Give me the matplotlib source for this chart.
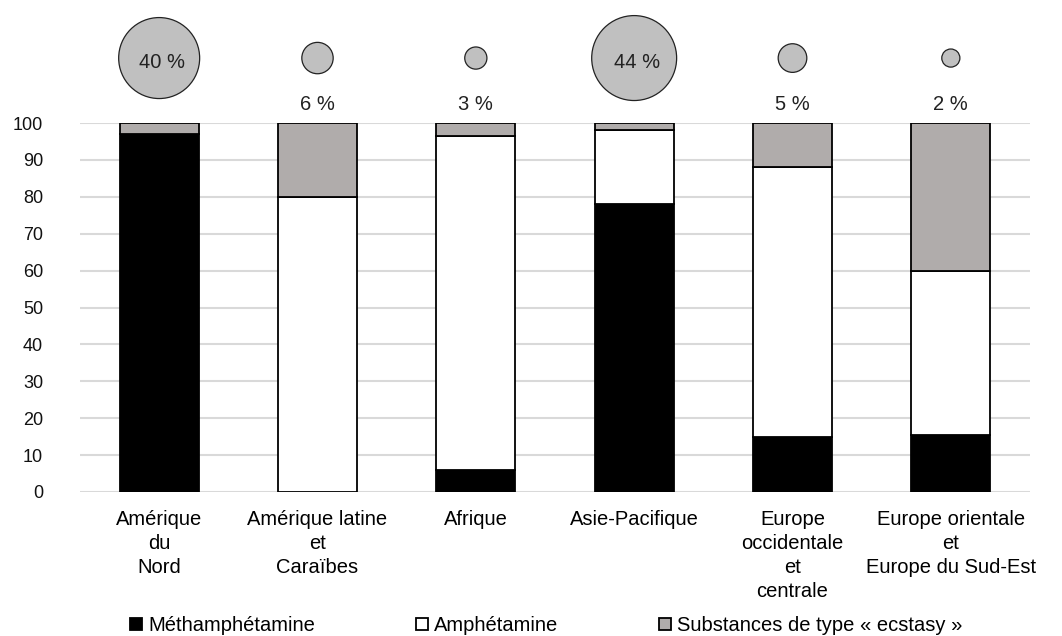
import numpy as np
import matplotlib.pyplot as plt
from matplotlib.patches import Patch

plt.rcParams['font.family'] = ['Liberation Sans', 'DejaVu Sans']

regions = ["Amérique\ndu\nNord", "Amérique latine\net\nCaraïbes", "Afrique",
           "Asie-Pacifique", "Europe\noccidentale\net\ncentrale",
           "Europe orientale\net\nEurope du Sud-Est"]
meth = [97, 0, 6, 78, 15, 15.5]
amph = [0, 80, 90.5, 20, 73, 44.5]
ecstasy = [3, 20, 3.5, 2, 12, 40]
share = [40, 6, 3, 44, 5, 2]  # share of global seizures, shown as bubbles

fig = plt.figure(figsize=(10.62, 6.36), dpi=100)
ax = fig.add_axes([80/1062, 144/636, 950/1062, 369/636])

x = np.arange(len(regions))
w = 0.5
meth = np.array(meth)
amph = np.array(amph)
ecstasy = np.array(ecstasy)
kw = dict(width=w, edgecolor='black', linewidth=1.3, zorder=3)
ax.bar(x, meth, color='black', **kw)
ax.bar(x, amph, bottom=meth, color='white', **kw)
ax.bar(x, ecstasy, bottom=meth + amph, color='#b0acab', **kw)

# bubbles above the bars, area proportional to share
ax.scatter(x, [117.6] * len(x), s=np.array(share) * 85, color='#c0c0c0',
           edgecolor='#222222', linewidth=0.9, clip_on=False, zorder=4)
for xi, v in zip(x, share):
    if v >= 20:
        ax.text(xi + 0.02, 116.3, f"{v} %", ha='center', va='center',
                fontsize=14.5, color='#222222', zorder=5, clip_on=False)
    else:
        ax.text(xi, 105.0, f"{v} %", ha='center', va='center',
                fontsize=14.5, color='#222222', clip_on=False)

ax.set_xlim(-0.5, len(x) - 0.5)
ax.set_ylim(0, 100)
ax.set_yticks(range(0, 101, 10))
ax.set_xticks(x, regions, fontsize=14.5, linespacing=1.33)
ax.tick_params(axis='y', length=0, pad=26.5, labelsize=13)
ax.tick_params(axis='x', length=0, pad=13)
for lab in ax.get_yticklabels():
    lab.set_color('#111111')
ax.grid(axis='y', color='#d9d9d9', linewidth=1.5, zorder=0)
ax.set_axisbelow(True)
for s in ax.spines.values():
    s.set_visible(False)

handles = [Patch(facecolor='black', edgecolor='black', linewidth=1.3),
           Patch(facecolor='white', edgecolor='black', linewidth=1.3),
           Patch(facecolor='#b0acab', edgecolor='black', linewidth=1.3)]
fig.legend(handles, ["Méthamphétamine", "Amphétamine",
                     "Substances de type « ecstasy »"],
           loc='lower left', bbox_to_anchor=(112/1062, -0.027), ncol=3,
           frameon=False, fontsize=14.5, handlelength=0.6, handleheight=0.6,
           handletextpad=0.3, columnspacing=5.0)

fig.savefig("out.png", dpi=100)
